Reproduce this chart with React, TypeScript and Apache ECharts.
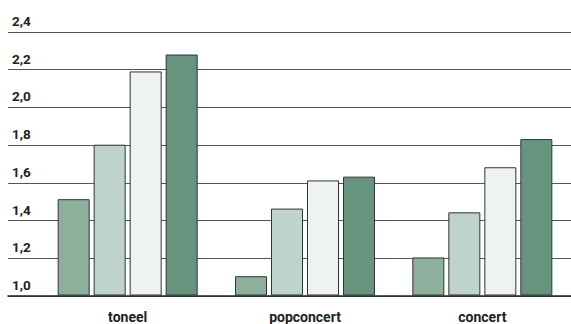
import React, { useEffect, useRef } from "react";
import * as echarts from "echarts";

const categories = ["toneel", "popconcert", "concert"];
const series1 = [1.51, 1.1, 1.2];
const series2 = [1.8, 1.46, 1.44];
const series3 = [2.19, 1.61, 1.68];
const series4 = [2.28, 1.63, 1.83];
const yMin = 1.0;
const yMax = 2.4;
const yStep = 0.2;

const colors = ["#8eaf9c", "#bed3ca", "#eef2f0", "#67947f"];

export default function App() {
  const ref = useRef<HTMLDivElement>(null);
  useEffect(() => {
    if (!ref.current) return;
    const chart = echarts.init(ref.current, undefined, { renderer: "svg" });
    const allSeries = [series1, series2, series3, series4];
    chart.setOption({
      animation: false,
      backgroundColor: "#ffffff",
      textStyle: { fontFamily: "Roboto" },
      grid: [
        { left: 39, width: 537, top: 32, bottom: 28 },
        { left: 8, right: 0, top: 32, bottom: 28 },
      ],
      xAxis: [
        {
          type: "category",
          gridIndex: 0,
          data: categories,
          axisLine: { show: false },
          axisTick: { show: false },
          axisLabel: {
            margin: 15,
            fontSize: 14,
            fontWeight: "bold",
            color: "#222",
            fontFamily: "Roboto",
          },
        },
        {
          type: "value",
          gridIndex: 1,
          min: 0,
          max: 1,
          axisLine: { show: true, onZero: false, lineStyle: { color: "#222", width: 1.5 } },
          axisTick: { show: false },
          axisLabel: { show: false },
          splitLine: { show: false },
        },
      ],
      yAxis: [
        {
          type: "value",
          gridIndex: 0,
          min: yMin,
          max: yMax,
          interval: yStep,
          show: false,
          splitLine: { show: false },
        },
        {
          type: "value",
          gridIndex: 1,
          min: yMin,
          max: yMax,
          interval: yStep,
          axisLine: { show: false },
          axisTick: { show: false },
          splitLine: { show: true, lineStyle: { color: "#555", width: 1 } },
          axisLabel: {
            inside: true,
            margin: 4,
            verticalAlign: "bottom",
            padding: [0, 0, 4, 0],
            fontSize: 13.5,
            fontWeight: "bold",
            color: "#222",
            fontFamily: "Roboto",
            formatter: (v: number) => v.toFixed(1).replace(".", ","),
          },
        },
      ],
      series: allSeries.map((d, i) => ({
        type: "bar",
        xAxisIndex: 0,
        yAxisIndex: 0,
        data: d,
        barWidth: 32,
        barGap: "12.5%",
        itemStyle: { color: colors[i], borderColor: "#333", borderWidth: 1 },
      })),
    });
    return () => chart.dispose();
  }, []);
  return (
    <div
      ref={ref}
      style={{ position: "fixed", left: 0, top: 0, width: 571, height: 324 }}
    />
  );
}
